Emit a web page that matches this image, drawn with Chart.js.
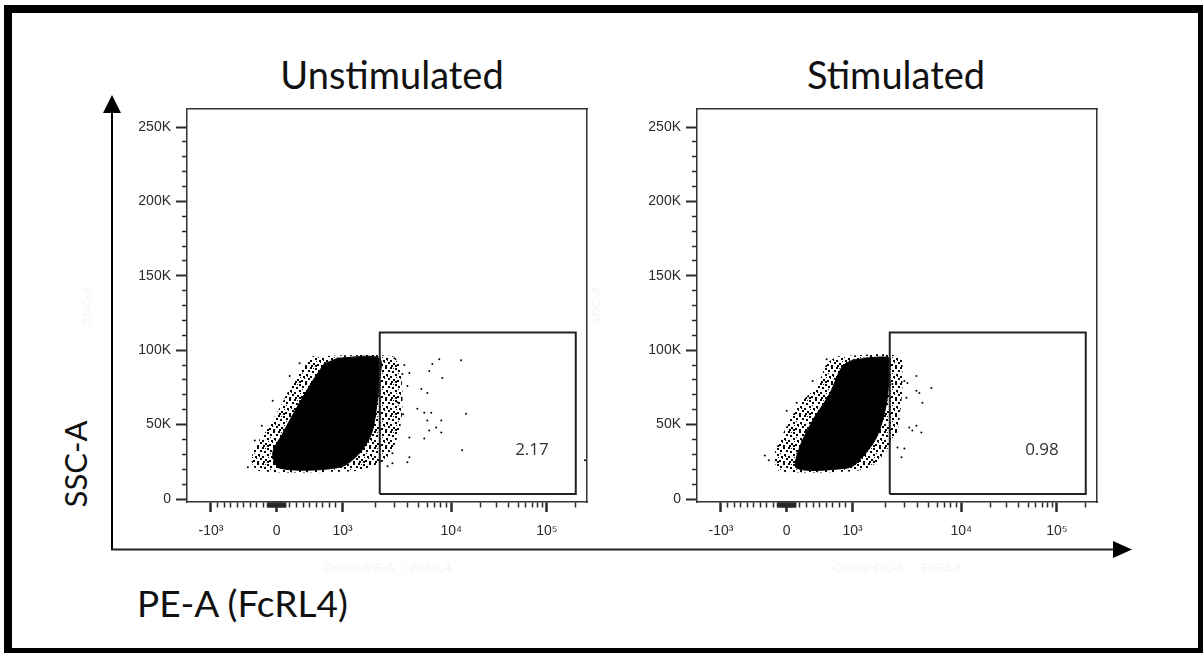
<!DOCTYPE html>
<html><head><meta charset="utf-8">
<script src="https://cdn.jsdelivr.net/npm/chart.js@4.4.1/dist/chart.umd.min.js"></script>
<style>
html,body{margin:0;padding:0;background:#fff;overflow:hidden;}
#page{position:relative;width:1203px;height:653px;overflow:hidden;background:#fff;}
#frame{position:absolute;left:4px;top:5px;width:1202px;height:651px;border:8px solid #000;box-sizing:border-box;}
.t{position:absolute;font-family:Lato,'Open Sans',sans-serif;color:#111;white-space:nowrap;line-height:1;}
canvas{position:absolute;}
</style></head><body>
<div id="page">
  <div id="frame"></div>
  <svg width="1203" height="653" style="position:absolute;left:0;top:0">
    <line x1="112" y1="550" x2="112" y2="108" stroke="#000" stroke-width="2"/>
    <polygon points="103,113 121,113 112,95" fill="#000"/>
    <line x1="111" y1="549.5" x2="1116" y2="549.5" stroke="#222" stroke-width="2"/>
    <polygon points="1113,541 1113,558 1132,549.5" fill="#000"/>
  </svg>
  <div class="t" id="title1" style="left:392px;top:55px;font-size:38px;transform:translateX(-50%)">Unstimulated</div>
  <div class="t" id="title2" style="left:896px;top:55px;font-size:38px;transform:translateX(-50%)">Stimulated</div>
  <div class="t" id="xlab" style="left:137px;top:584px;font-size:37px;">PE-A (FcRL4)</div>
  <div class="t" id="ylab" style="left:75px;top:464px;font-size:31px;transform:translate(-50%,-50%) rotate(-90deg);">SSC-A</div>
  <canvas id="c1" width="530" height="485" style="left:70px;top:95px"></canvas>
  <canvas id="c2" width="530" height="485" style="left:580px;top:95px"></canvas>
</div>
<script>
// ---------- tick values / labels ----------
const xMajorValues = [-1000, 0, 1000, 10000, 100000];
const xMajorLabels = ['-10³', '0', '10³', '10⁴', '10⁵'];
const xMinorValues = [-900, -800, -700, -600, -500, -400, -300, -200, -100,
  -140, -130, -120, -110, -90, -80, -70, -60, -50, -40, -30, -20, -10,
  10, 20, 30, 40, 50, 60, 70, 80, 90, 110, 120, 130, 140,
  100, 200, 300, 400, 500, 600, 700, 800, 900,
  2000, 3000, 4000, 5000, 6000, 7000, 8000, 9000,
  20000, 30000, 40000, 50000, 60000, 70000, 80000, 90000, 200000];
const yMajorValues = [0, 50000, 100000, 150000, 200000, 250000];
const yMajorLabels = ['0', '50K', '100K', '150K', '200K', '250K'];
const yMinorValues = [10000, 20000, 30000, 40000, 60000, 70000, 80000, 90000,
  110000, 120000, 130000, 140000, 160000, 170000, 180000, 190000,
  210000, 220000, 230000, 240000];

// ---------- panels ----------
const panelTitles = ['Unstimulated', 'Stimulated'];
const gatePercent = ['2.17', '0.98'];
const gateX = [2200, 200000];
const gateY = [3300, 112000];

// Unstimulated: dense core outline, speckled fringe outline, isolated events
const coreUnstimX = [909, 2180, 2180, 2050, 1850, 1430, 955, 45, -61, 91, 303, 545, 727];
const coreUnstimY = [94700, 94700, 79300, 61300, 44000, 30700, 21300, 20700, 30700, 44000, 61300, 79300, 91300];
const haloUnstimX = [545, 2880, 3330, 3550, 3480, 3000, 2430, 1660, 1235, -258, -379, -333, -136, 45, 242, 424];
const haloUnstimY = [96000, 96000, 89300, 72700, 52700, 36000, 26000, 20700, 18700, 18700, 24700, 34700, 48000, 61300, 78000, 89300];
const outUnstimX = [-439, 7760, 12700, 6700, 6280, 8270, 4120, 3550, 5310, 6030, 3950, 4880, 5650, 6550, 14300, 8100, 6030, 7280, 5650, 6280, 8100, 4120, 13000, 2880, 4120, 3950, 2880, 250000,
  -333, -227, -61, 197, 348, 3000, 3700, 3200, 3600, 2600];
const outUnstimY = [21300, 94000, 93300, 90700, 86000, 81300, 84700, 84000, 74000, 71300, 76000, 60700, 58000, 58000, 57300, 52700, 52700, 48000, 40700, 46000, 44700, 41300, 32700, 30700, 28000, 24700, 24000, 26000,
  39300, 49300, 66000, 82700, 91300, 94700, 90000, 65000, 57000, 22000];

// Stimulated
const coreStimX = [1235, 2180, 2180, 2050, 1660, 1090, 909, 152, 197, 394, 652, 848, 1043];
const coreStimY = [94700, 94700, 86000, 64000, 41300, 24000, 20700, 20700, 34700, 52700, 70700, 89300, 94000];
const haloStimX = [758, 2700, 2880, 2820, 2590, 2090, 1490, 1000, -106, -182, -182, -106, 45, 197, 455, 606];
const haloStimY = [96000, 96000, 82700, 66000, 46000, 32700, 22000, 18700, 18700, 24700, 30700, 39300, 52700, 64000, 76000, 91300];
const outStimX = [3870, 5310, 4120, 3870, 3130, 4390, 3200, 3000, 3330, 3870, 4300, 3550, 3000, 2590, 2820, -333, -273, 2330,
  0, 152, 394, 606];
const outStimY = [82700, 74700, 71300, 72700, 68000, 64700, 78000, 79300, 48000, 49300, 44700, 46000, 34000, 34700, 28000, 29300, 26000, 77300,
  59300, 64700, 79300, 94000];

// ---------- biexponential-like display scale ----------
function biex(v) {
  const a = Math.abs(v), s = Math.sign(v);
  if (a <= 1000) return v / 1000 * 66;
  if (a <= 10000) return s * (66 + (Math.log10(a) - 3) * 109);
  return s * (175 + (Math.log10(a) - 4) * 96);
}
function biexInv(t) {
  const a = Math.abs(t), s = Math.sign(t);
  if (a <= 66) return t / 66 * 1000;
  if (a <= 175) return s * Math.pow(10, 3 + (a - 66) / 109);
  return s * Math.pow(10, 4 + (a - 175) / 96);
}
class BiexScale extends Chart.LinearScale {
  static id = 'biex';
  static defaults = Chart.LinearScale.defaults;
  getPixelForValue(v) {
    const t0 = biex(this.min), t1 = biex(this.max);
    return this.getPixelForDecimal((biex(v) - t0) / (t1 - t0));
  }
  getValueForPixel(p) {
    const t0 = biex(this.min), t1 = biex(this.max);
    return biexInv(t0 + this.getDecimalForPixel(p) * (t1 - t0));
  }
}
Chart.register(BiexScale);

function zip(xs, ys) { return xs.map((x, i) => ({x, y: ys[i]})); }

// speckle fill style for the sparse fringe of the dot cloud
function stipple() {
  const c = document.createElement('canvas');
  c.width = 16; c.height = 16;
  const g = c.getContext('2d');
  g.fillStyle = '#000';
  [[0,0],[5,1],[11,0],[14,3],[2,4],[8,3],[12,7],[5,7],[0,9],[9,9],[14,11],[3,12],[7,13],[11,14],[1,14],[5,14]]
    .forEach(([x, y]) => g.fillRect(x, y, 2, 2));
  g.fillStyle = '#222';
  [[8,6],[13,9],[3,1],[10,11],[6,10]].forEach(([x, y]) => g.fillRect(x, y, 1, 1));
  return g.createPattern(c, 'repeat');
}

const gateLabelPlugin = {
  id: 'gateLabel',
  afterDatasetsDraw(chart, args, opts) {
    const {ctx, scales} = chart;
    ctx.save();
    ctx.font = '17px "Open Sans", sans-serif';
    ctx.fillStyle = '#333';
    ctx.textAlign = 'right';
    ctx.textBaseline = 'middle';
    ctx.fillText(opts.text, scales.x.getPixelForValue(gateX[1]) - 27, scales.y.getPixelForValue(gateY[0]) - 44);
    ctx.restore();
  }
};

const TICK = '#2a2a2a';
const tickFont = {family: '"Liberation Sans", Arial, sans-serif', size: 14};
const ghost = '#f7f7f7';

function makeChart(id, p, label) {
  const ctx = document.getElementById(id).getContext('2d');
  return new Chart(ctx, {
    type: 'scatter',
    data: {
      datasets: [
        {label: 'gate', data: zip([gateX[0], gateX[1], gateX[1], gateX[0], gateX[0]], [gateY[0], gateY[0], gateY[1], gateY[1], gateY[0]]),
          showLine: true, borderColor: '#222', borderWidth: 2, pointRadius: 0, fill: false, tension: 0},
        {label: 'events', data: zip(p.outX, p.outY), pointRadius: 1, pointBackgroundColor: '#000', pointBorderWidth: 0, showLine: false},
        {label: 'core', data: zip(p.coreX, p.coreY), showLine: true, fill: 'shape', backgroundColor: '#000', borderColor: '#000', borderWidth: 1, pointRadius: 0, tension: 0.3},
        {label: 'fringe', data: zip(p.haloX, p.haloY), showLine: true, fill: 'shape', backgroundColor: stipple(), borderWidth: 0, pointRadius: 0, tension: 0.3}
      ]
    },
    options: {
      responsive: false, animation: false, devicePixelRatio: 1, events: [],
      layout: {padding: {top: 14, right: 13, left: 0, bottom: 0}},
      plugins: {legend: {display: false}, tooltip: {enabled: false}, gateLabel: {text: label}},
      scales: {
        x: {
          type: 'biex', position: 'bottom', min: -1660, max: 262144, bounds: 'data',
          afterFit: s => { s.height = 78; },
          afterBuildTicks: s => { s.ticks = xMajorValues.concat(xMinorValues).sort((a, b) => a - b).map(v => ({value: v})); },
          ticks: {autoSkip: false, maxRotation: 0, minRotation: 0, padding: 11, color: TICK, font: tickFont,
            callback: v => { const i = xMajorValues.indexOf(v); return i >= 0 ? xMajorLabels[i] : ''; }},
          grid: {drawOnChartArea: false, tickLength: 10, tickColor: TICK,
            tickWidth: c => xMajorValues.includes(c.tick.value) ? 2.5 : 1.5,
            tickBorderDash: c => xMajorValues.includes(c.tick.value) ? [] : [5, 40]},
          border: {display: true, color: '#333', width: 1.5},
          title: {display: true, text: 'Comp-PE-A :: FcRL4', color: ghost, font: {family: '"Liberation Sans", Arial', size: 13, weight: 'bold'}, padding: {top: 4, bottom: 4}}
        },
        y: {
          type: 'linear', position: 'left', min: -2000, max: 262144, bounds: 'data',
          afterFit: s => { s.width = 117; },
          afterBuildTicks: s => { s.ticks = yMajorValues.concat(yMinorValues).sort((a, b) => a - b).map(v => ({value: v})); },
          ticks: {autoSkip: false, padding: 5, color: TICK, font: tickFont,
            callback: v => { const i = yMajorValues.indexOf(v); return i >= 0 ? yMajorLabels[i] : ''; }},
          grid: {drawOnChartArea: false, tickLength: 11, tickColor: TICK,
            tickWidth: c => yMajorValues.includes(c.tick.value) ? 2 : 1.5,
            tickBorderDash: c => yMajorValues.includes(c.tick.value) ? [] : [0, 6, 5, 40]},
          border: {display: true, color: '#333', width: 1.5},
          title: {display: true, text: 'SSC-A', color: ghost, font: {family: '"Liberation Sans", Arial', size: 13, weight: 'bold'}, padding: {top: 10, bottom: 4}}
        },
        xTop: {type: 'linear', position: 'top', min: 0, max: 1, ticks: {display: false},
          grid: {drawOnChartArea: false, drawTicks: false}, border: {display: true, color: '#333', width: 1.5},
          afterFit: s => { s.height = 0; }},
        yRight: {type: 'linear', position: 'right', min: 0, max: 1, ticks: {display: false},
          grid: {drawOnChartArea: false, drawTicks: false}, border: {display: true, color: '#333', width: 1.5},
          afterFit: s => { s.width = 0; }}
      }
    },
    plugins: [gateLabelPlugin]
  });
}

makeChart('c1', {coreX: coreUnstimX, coreY: coreUnstimY, haloX: haloUnstimX, haloY: haloUnstimY, outX: outUnstimX, outY: outUnstimY}, gatePercent[0]);
makeChart('c2', {coreX: coreStimX, coreY: coreStimY, haloX: haloStimX, haloY: haloStimY, outX: outStimX, outY: outStimY}, gatePercent[1]);
</script>
</body></html>
